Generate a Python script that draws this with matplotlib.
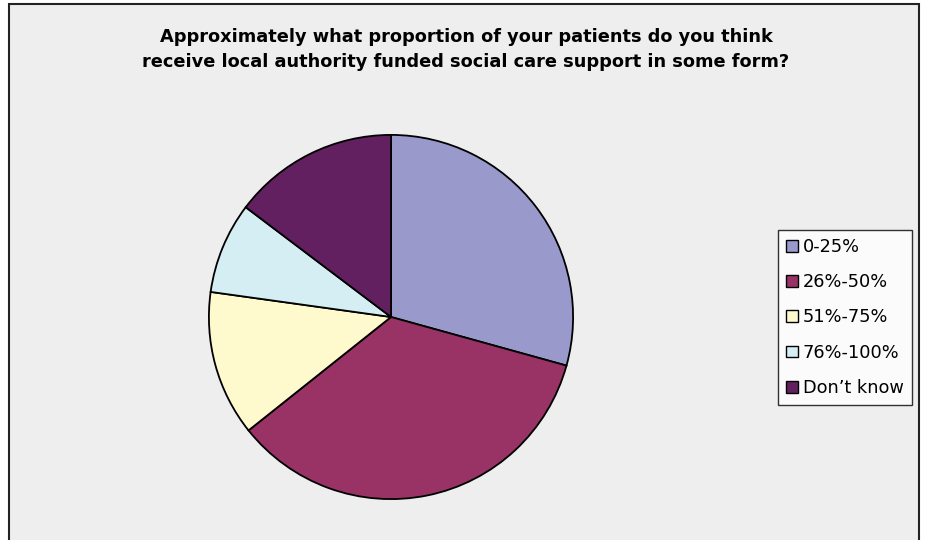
import matplotlib.pyplot as plt
from matplotlib.patches import Rectangle

# survey answers, share of respondents (%)
labels = ['0-25%', '26%-50%', '51%-75%', '76%-100%', "Don\u2019t know"]
shares = [29.3, 35.0, 12.9, 8.1, 14.7]
colors = ['#9999cc', '#993366', '#fffacd', '#d4eef4', '#632060']

title = ('Approximately what proportion of your patients do you think\n'
         'receive local authority funded social care support in some form?')

W, H = 927, 540
fig = plt.figure(figsize=(W / 100, H / 100), dpi=100)
fig.patch.set_facecolor('white')

# grey chart area with black frame (bottom edge runs off the image)
fig.patches.append(Rectangle((9 / W, -0.05), 910 / W, (H - 4) / H + 0.05,
                             transform=fig.transFigure, facecolor='#eeeeee',
                             edgecolor='#222222', linewidth=1.5, zorder=-5))

cx, cy, r = 391, 317, 183
ax = fig.add_axes([(cx - r) / W, (H - cy - r) / H, 2 * r / W, 2 * r / H])
ax.set_zorder(2)
wedges, _ = ax.pie(shares, colors=colors, startangle=90, counterclock=False,
                   wedgeprops=dict(edgecolor='black', linewidth=1.3))
ax.set_xlim(-1.005, 1.005)
ax.set_ylim(-1.005, 1.005)
ax.set_aspect('equal')
ax.axis('off')

fig.text(466 / W, 1 - 49.5 / H, title, ha='center', va='center',
         fontsize=12.8, fontweight='bold', family='DejaVu Sans',
         linespacing=1.55)

leg = fig.legend(wedges, labels, loc='upper left',
                 bbox_to_anchor=(778 / W, 1 - 230 / H),
                 prop={'family': 'DejaVu Sans', 'size': 12.8},
                 frameon=True, fancybox=False, edgecolor='black',
                 handlelength=0.65, handleheight=0.65, handletextpad=0.3,
                 labelspacing=0.97, borderpad=0.45, borderaxespad=0)
leg.set_zorder(3)
leg.get_frame().set_linewidth(1.0)
leg.get_frame().set_facecolor('white')
for h in leg.legend_handles:
    h.set_linewidth(1.0)

fig.savefig('out.png', dpi=100, facecolor=fig.get_facecolor())
